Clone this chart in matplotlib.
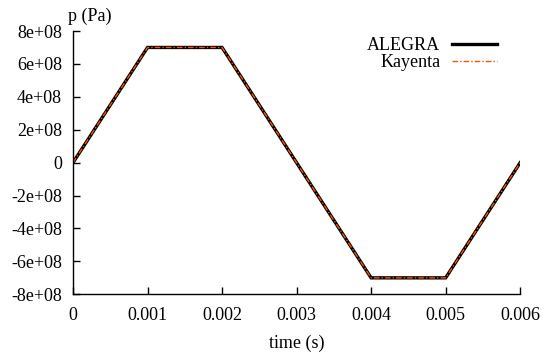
import matplotlib
matplotlib.use("Agg")
import matplotlib.pyplot as plt

time_s = [0.0, 0.001, 0.002, 0.004, 0.005, 0.006]
alegra_p = [0.0, 7e8, 7e8, -7e8, -7e8, 0.0]
kayenta_p = [0.0, 7e8, 7e8, -7e8, -7e8, 0.0]
xticks = [0, 0.001, 0.002, 0.003, 0.004, 0.005, 0.006]
xticklabels = ["0", "0.001", "0.002", "0.003", "0.004", "0.005", "0.006"]
yticks = [-8e8, -6e8, -4e8, -2e8, 0, 2e8, 4e8, 6e8, 8e8]
yticklabels = ["-8e+08", "-6e+08", "-4e+08", "-2e+08", "0", "2e+08", "4e+08", "6e+08", "8e+08"]

plt.rcParams['font.family'] = ['Liberation Serif', 'DejaVu Serif']
plt.rcParams['font.size'] = 13

fig = plt.figure(figsize=(5.48, 3.54), dpi=100)
ax = fig.add_axes([0.1332, 0.1686, 0.816, 0.7438])

ax.plot(time_s, alegra_p, color='black', lw=2.4, label='ALEGRA', solid_joinstyle='miter')
ax.plot(time_s, kayenta_p, color='#ff5000', lw=1.0, dashes=(4, 1.5, 1, 1.5), label='Kayenta')

ax.set_xlim(0, 0.006)
ax.set_ylim(-8e8, 8e8)
ax.set_xticks(xticks)
ax.set_xticklabels(xticklabels)
ax.set_yticks(yticks)
ax.set_yticklabels(yticklabels)
ax.tick_params(direction='in', length=5, width=1)
ax.tick_params(axis='y', pad=8)
ax.tick_params(axis='x', pad=9)
for s in ['top', 'right']:
    ax.spines[s].set_visible(False)
for s in ['left', 'bottom']:
    ax.spines[s].set_linewidth(1.0)

ax.set_xlabel('time (s)', labelpad=8)
fig.text(68 / 548, 1 - 16 / 354, 'p (Pa)', ha='left', va='center')

leg = ax.legend(loc='upper right', bbox_to_anchor=(0.969, 1.011), frameon=False,
                markerfirst=False, handlelength=2.5, handletextpad=0.65,
                labelspacing=0.0, borderpad=0)
for t in leg.get_texts():
    t.set_ha('right')

fig.savefig('out.png', dpi=100)
